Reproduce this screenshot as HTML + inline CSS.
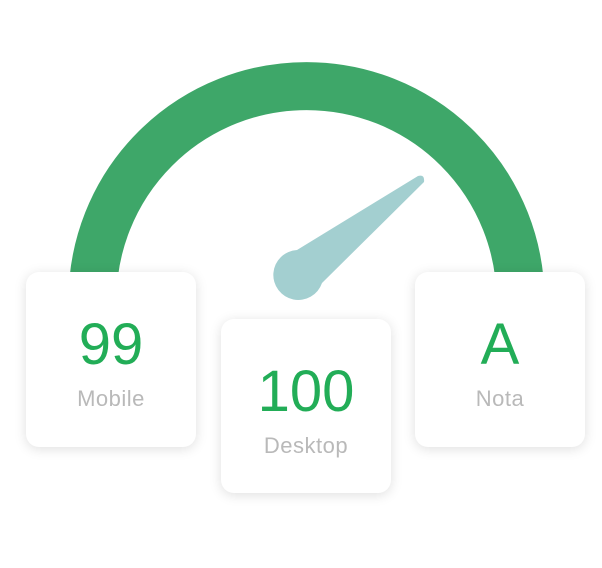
<!DOCTYPE html>
<html><head><meta charset="utf-8"><style>
body{margin:0;width:602px;height:568px;background:#fff;position:relative;overflow:hidden;font-family:"Liberation Sans",sans-serif}
svg{position:absolute;left:0;top:0}
.b{position:absolute;width:170px;height:175px;background:#fff;border-radius:13px;box-shadow:0 2px 12px rgba(0,0,0,0.13)}
.n{position:absolute;left:0;right:0;text-align:center;color:#22ad57;font-size:58px;line-height:1;top:44px}
.l{position:absolute;left:0;right:0;text-align:center;color:#b9b9b9;font-size:22px;line-height:1;top:116px;letter-spacing:0.5px}
</style></head><body>
<svg width="602" height="568">
<path d="M 92.5 300 A 214 214 0 0 1 520.5 300" fill="none" stroke="#3ea769" stroke-width="48"/>
<path d="M 297 250 L 418 176 Q 425 174 424 182 L 322 283 A 25 25 0 1 1 297 250 Z" fill="#a3cfd0"/>
</svg>
<div class="b" style="left:26px;top:272px"><div class="n">99</div><div class="l">Mobile</div></div>
<div class="b" style="left:221px;top:319px;height:174px"><div class="n">100</div><div class="l">Desktop</div></div>
<div class="b" style="left:415px;top:272px"><div class="n">A</div><div class="l">Nota</div></div>
</body></html>
